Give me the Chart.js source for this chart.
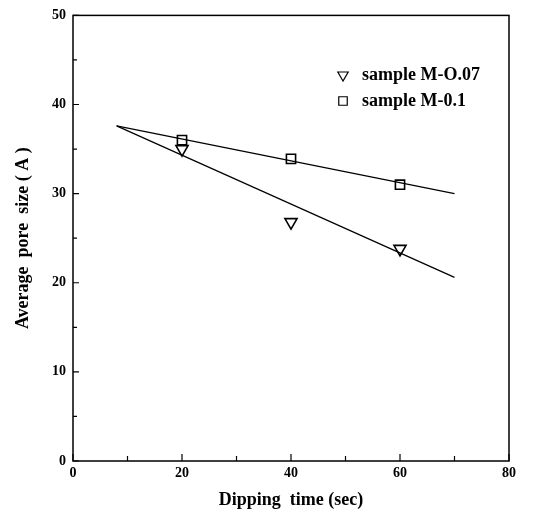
<!DOCTYPE html>
<html>
<head>
<meta charset="utf-8">
<script src="https://cdn.jsdelivr.net/npm/chart.js"></script>
<style>
  html, body { margin: 0; padding: 0; background: #fff; }
  #wrap { width: 534px; height: 515px; }
</style>
</head>
<body>
<div id="wrap"><canvas id="chart"></canvas></div>
<script>
// values
const dipTimes = [20, 40, 60]
const poreM007 = [35, 26.8, 23.8]
const poreM01 = [36, 33.9, 31]

// fitted lines (end points)
const fitX = [8, 70]
const fitM007 = [37.6, 20.6]
const fitM01 = [37.6, 30]

const xTicks = [0, 20, 40, 60, 80]
const yTicks = [0, 10, 20, 30, 40, 50]
const xMinor = [10, 30, 50, 70]
const yMinor = [5, 15, 25, 35, 45]

const seriesNames = ['sample M-O.07', 'sample M-0.1']

const serif = '"Liberation Serif", "DejaVu Serif", serif'

const toPoints = (xs, ys) => xs.map((x, i) => ({ x: x, y: ys[i] }))

// box around the plot, inward tick marks, and the legend
const framePlugin = {
  id: 'frame',
  afterDatasetsDraw(chart) {
    const { ctx, chartArea: a, scales } = chart
    ctx.save()
    ctx.strokeStyle = '#000'
    ctx.lineWidth = 1.5
    ctx.strokeRect(a.left, a.top, a.right - a.left, a.bottom - a.top)

    ctx.lineWidth = 1.2
    ctx.beginPath()
    const xTick = (v, len) => {
      const px = scales.x.getPixelForValue(v)
      ctx.moveTo(px, a.bottom)
      ctx.lineTo(px, a.bottom - len)
    }
    const yTick = (v, len) => {
      const py = scales.y.getPixelForValue(v)
      ctx.moveTo(a.left, py)
      ctx.lineTo(a.left + len, py)
    }
    xTicks.forEach(v => xTick(v, 7))
    xMinor.forEach(v => xTick(v, 5))
    yTicks.forEach(v => yTick(v, 6))
    yMinor.forEach(v => yTick(v, 4))
    ctx.stroke()

    // legend
    const lx = 343
    const rows = [75, 101]
    const styles = [
      { pointStyle: 'triangle', rotation: 180, radius: 6, borderWidth: 1.5 },
      { pointStyle: 'rect', rotation: 0, radius: 6, borderWidth: 1.5 }
    ]
    ctx.fillStyle = '#fff'
    ctx.strokeStyle = '#000'
    styles.forEach((s, i) => {
      Chart.helpers.drawPoint(ctx, s, lx, rows[i])
    })
    ctx.fillStyle = '#000'
    ctx.font = 'bold 18px ' + serif
    ctx.textBaseline = 'middle'
    ctx.textAlign = 'left'
    seriesNames.forEach((name, i) => ctx.fillText(name, lx + 19, rows[i]))
    ctx.restore()
  }
}

const tickFont = { family: serif, size: 14, weight: 'bold' }
const titleFont = { family: serif, size: 18, weight: 'bold' }

new Chart(document.getElementById('chart'), {
  type: 'scatter',
  data: {
    datasets: [
      {
        label: seriesNames[0] + ' fit',
        data: toPoints(fitX, fitM007),
        showLine: true,
        borderColor: '#000',
        borderWidth: 1.2,
        pointRadius: 0
      },
      {
        label: seriesNames[1] + ' fit',
        data: toPoints(fitX, fitM01),
        showLine: true,
        borderColor: '#000',
        borderWidth: 1.2,
        pointRadius: 0
      },
      {
        label: seriesNames[0],
        data: toPoints(dipTimes, poreM007),
        pointStyle: 'triangle',
        rotation: 180,
        pointRadius: 7,
        pointBorderWidth: 1.6,
        borderColor: '#000',
        backgroundColor: 'rgba(255,255,255,0)'
      },
      {
        label: seriesNames[1],
        data: toPoints(dipTimes, poreM01),
        pointStyle: 'rect',
        pointRadius: 6.5,
        pointBorderWidth: 1.6,
        borderColor: '#000',
        backgroundColor: 'rgba(255,255,255,0)'
      }
    ]
  },
  options: {
    responsive: true,
    maintainAspectRatio: false,
    animation: false,
    layout: { padding: { top: 14, right: 25, left: 0, bottom: 0 } },
    plugins: {
      legend: { display: false },
      tooltip: { enabled: false }
    },
    scales: {
      x: {
        type: 'linear',
        min: 0,
        max: 80,
        afterFit: (s) => { s.height = 54 },
        afterBuildTicks: (s) => { s.ticks = xTicks.map(v => ({ value: v })) },
        grid: { display: false, drawTicks: false },
        border: { display: false },
        ticks: { font: tickFont, color: '#000', padding: 4, maxRotation: 0 },
        title: {
          display: true,
          text: 'Dipping  time (sec)',
          font: titleFont,
          color: '#000',
          padding: { top: 4, bottom: 4 }
        }
      },
      y: {
        type: 'linear',
        min: 0,
        max: 50,
        afterFit: (s) => { s.width = 73 },
        afterBuildTicks: (s) => { s.ticks = yTicks.map(v => ({ value: v })) },
        grid: { display: false, drawTicks: false },
        border: { display: false },
        ticks: { font: tickFont, color: '#000', padding: 7 },
        title: {
          display: true,
          text: 'Average  pore  size ( A )',
          font: titleFont,
          color: '#000',
          padding: { top: 13, bottom: 4 }
        }
      }
    }
  },
  plugins: [framePlugin]
})
</script>
</body>
</html>
